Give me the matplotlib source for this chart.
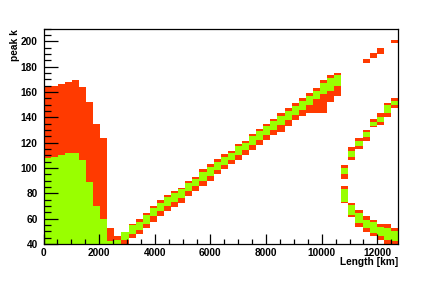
import matplotlib
matplotlib.use('Agg')
import matplotlib.pyplot as plt
from matplotlib.ticker import MultipleLocator

X_MAX = 12742.0
N_BINS = 50
Y_MIN, Y_MAX = 40, 210

RED = '#ff3a00'
GREEN = '#99ff00'

# --- left block (bins 0-10): green from 40 to green_top, red up to red_top
block_bins = [0, 1, 2, 3, 4, 5, 6, 7, 8, 9, 10]
block_green_top = [108, 109, 110, 112, 112, 106, 89, 70, 60, 42, 43]
block_red_top = [165, 165, 166, 168, 169.5, 164, 152, 135, 123.5, 53, 46]

# --- rising band (bins 11-41)
band_bins = list(range(11, 42))
band_red_lo = [40, 44.5, 48, 53, 57, 62, 66, 69, 72, 78, 82, 86, 90, 95, 99,
               103, 106, 110, 114, 118, 122, 126, 128, 133, 138, 141, 143,
               143, 143, 152, 157]
band_green_lo = [43, 48, 51, 56, 62, 66, 70, 73, 76, 81.5, 86, 90, 94, 98, 102,
                 106, 110, 114, 118, 122, 126, 130, 134, 138, 142, 146, 150,
                 154, 158, 161, 165]
band_green_hi = [49.5, 54.7, 57.5, 63, 68.7, 72.5, 77, 80, 83, 88, 91, 97, 101,
                 105, 109, 112, 117, 120, 125, 129, 133, 137, 141, 145, 149,
                 153, 157, 161, 167, 171, 173]
band_red_hi = [49.5, 55.5, 59.5, 64.7, 70.3, 74.5, 79, 82, 84.5, 89.5, 92.5, 99,
               103, 107, 111, 113.5, 118.5, 121.5, 127, 131, 135, 139, 143, 147,
               151, 155, 159, 163, 169, 173, 175]

# --- right arc, upper branch (bins 42-49)
arc_bins = [42, 43, 44, 45, 46, 47, 48, 49]
up_red_lo = [91, 106.5, 115, 121.5, 132.5, 134, 140, 147]
up_green_lo = [95, 108.5, 117.5, 124.5, 133, 136.5, 143, 150]
up_green_hi = [100, 113.5, 121.5, 128, 136.5, 140.5, 150, 153]
up_red_hi = [102.5, 116.5, 123.5, 130, 138.5, 143, 151.5, 155]

# --- right arc, lower branch (bins 42-49)
low_red_lo = [72, 61, 53.5, 49.5, 46.5, 43.5, 40, 40]
low_green_lo = [73.5, 63, 56.5, 52.5, 49, 46, 43, 42]
low_green_hi = [83, 70.5, 64.5, 59, 57, 53.5, 52.5, 50.5]
low_red_hi = [85.5, 72, 67, 62, 59, 56, 56, 52.5]

# --- isolated red cells at the top right
top_bins = [45, 46, 47, 49]
top_lo = [183, 187, 190, 198.5]
top_hi = [186, 191, 194.5, 201]

plt.rcParams['font.family'] = ['Liberation Sans', 'DejaVu Sans']

fig = plt.figure(figsize=(4.43, 2.85), dpi=100)
fig.patch.set_facecolor('white')
ax = fig.add_axes([43.5 / 443, 1 - 244 / 285, (398 - 43.5) / 443, (244 - 28.5) / 285])

w = X_MAX / N_BINS


def spans(bins, lo, hi, color):
    left = [b * w for b in bins]
    heights = [h - l for l, h in zip(lo, hi)]
    ax.bar(left, heights, width=w, bottom=lo, align='edge', color=color,
           linewidth=0)


# red first
spans(block_bins, [Y_MIN] * len(block_bins), block_red_top, RED)
spans(band_bins, band_red_lo, band_red_hi, RED)
spans(arc_bins, up_red_lo, up_red_hi, RED)
spans(arc_bins, low_red_lo, low_red_hi, RED)
spans(top_bins, top_lo, top_hi, RED)
# green on top
spans(block_bins, [Y_MIN] * len(block_bins), block_green_top, GREEN)
spans(band_bins, band_green_lo, band_green_hi, GREEN)
spans(arc_bins, up_green_lo, up_green_hi, GREEN)
spans(arc_bins, low_green_lo, low_green_hi, GREEN)

ax.set_xlim(0, X_MAX)
ax.set_ylim(Y_MIN, Y_MAX)
ax.xaxis.set_major_locator(MultipleLocator(2000))
ax.xaxis.set_minor_locator(MultipleLocator(500))
ax.yaxis.set_major_locator(MultipleLocator(20))
ax.yaxis.set_minor_locator(MultipleLocator(5))

ax.tick_params(which='both', direction='in', top=False, right=False,
               width=0.9, color='black')
ax.tick_params(axis='x', which='major', length=7, pad=2.8)
ax.tick_params(axis='x', which='minor', length=3.5)
ax.tick_params(axis='y', which='major', length=10, pad=4.2)
ax.tick_params(axis='y', which='minor', length=5)
for lab in ax.get_xticklabels() + ax.get_yticklabels():
    lab.set_fontsize(7.3)
    lab.set_fontweight('bold')
for sp in ax.spines.values():
    sp.set_linewidth(0.9)

fig.text(19.5 / 443, 1 - 29 / 285, 'peak k', rotation=90, ha='right', va='top',
         fontsize=7.3, fontweight='bold')
fig.text(398 / 443, 1 - 257 / 285, 'Length [km]', ha='right', va='top',
         fontsize=7.3, fontweight='bold')

fig.savefig('out.png', dpi=100, facecolor='white')
